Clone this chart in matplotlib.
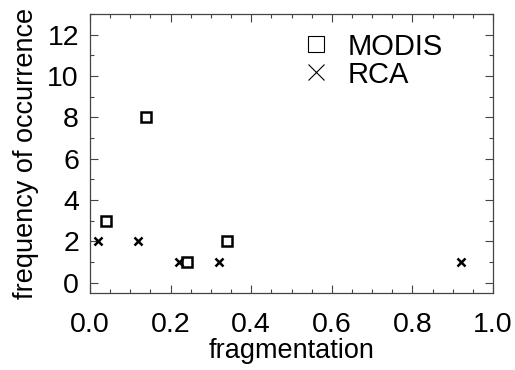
import matplotlib
matplotlib.use('Agg')
import matplotlib.pyplot as plt
from matplotlib.lines import Line2D
from matplotlib.ticker import MultipleLocator

# fragmentation values and counts
modis_frag = [0.04, 0.14, 0.24, 0.34]
modis_freq = [3, 8, 1, 2]
rca_frag = [0.02, 0.12, 0.22, 0.32, 0.92]
rca_freq = [2, 2, 1, 1, 1]

plt.rcParams['font.family'] = ['Liberation Sans', 'DejaVu Sans']

fig = plt.figure(figsize=(5.15, 3.7), dpi=100)
ax = fig.add_axes([90 / 515, 1 - 293 / 370, 403 / 515, 279 / 370])

ax.plot(modis_frag, modis_freq, ls='none', marker='s', ms=7, mfc='none',
        mec='black', mew=1.8)
ax.plot(rca_frag, rca_freq, ls='none', marker='x', ms=5.5, mec='black', mew=1.8)

ax.set_xlim(0, 1)
ax.set_ylim(-0.5, 13)
ax.xaxis.set_major_locator(MultipleLocator(0.2))
ax.xaxis.set_minor_locator(MultipleLocator(0.05))
ax.yaxis.set_major_locator(MultipleLocator(2))
ax.yaxis.set_minor_locator(MultipleLocator(1))
ax.xaxis.set_major_formatter(plt.FormatStrFormatter('%.1f'))

ax.tick_params(which='both', direction='in', top=True, right=True,
               colors='#444444', labelcolor='black', labelsize=20.5)
ax.tick_params(which='major', length=6, width=0.8)
ax.tick_params(which='minor', length=3, width=0.8)
ax.tick_params(axis='x', pad=14)
ax.tick_params(axis='y', pad=8)
for s in ax.spines.values():
    s.set_color('#444444')
    s.set_linewidth(0.9)

ax.set_xlabel('fragmentation', fontsize=19.5, labelpad=0)
ax.set_ylabel('frequency of occurrence', fontsize=19.5, labelpad=6)

handles = [Line2D([], [], ls='none', marker='s', ms=12, mfc='none', mec='black', mew=0.8),
           Line2D([], [], ls='none', marker='x', ms=12, mec='black', mew=0.8)]
ax.legend(handles, ['MODIS', 'RCA'], loc='upper left', bbox_to_anchor=(0.495, 0.975),
          frameon=False, fontsize=21, handlelength=1.0, handletextpad=0.6,
          labelspacing=0.0, borderaxespad=0)

fig.savefig('out.png', dpi=100)
